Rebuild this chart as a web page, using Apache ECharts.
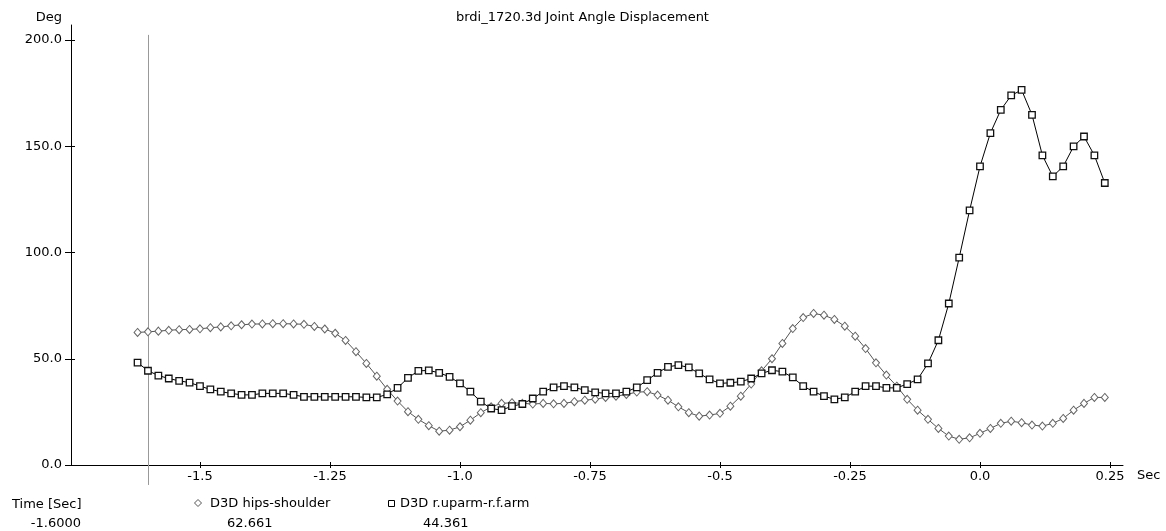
<!DOCTYPE html>
<html><head><meta charset="utf-8">
<script src="https://cdn.jsdelivr.net/npm/echarts@6/dist/echarts.min.js"></script>
<style>html,body{margin:0;padding:0;background:#fff}#c{width:1166px;height:531px}</style>
</head><body><div id="c"></div>
<script>
// ---- data ----
const times = [
  -1.62,-1.60,-1.58,-1.56,-1.54,-1.52,-1.50,-1.48,-1.46,-1.44,
  -1.42,-1.40,-1.38,-1.36,-1.34,-1.32,-1.30,-1.28,-1.26,-1.24,
  -1.22,-1.20,-1.18,-1.16,-1.14,-1.12,-1.10,-1.08,-1.06,-1.04,
  -1.02,-1.00,-0.98,-0.96,-0.94,-0.92,-0.90,-0.88,-0.86,-0.84,
  -0.82,-0.80,-0.78,-0.76,-0.74,-0.72,-0.70,-0.68,-0.66,-0.64,
  -0.62,-0.60,-0.58,-0.56,-0.54,-0.52,-0.50,-0.48,-0.46,-0.44,
  -0.42,-0.40,-0.38,-0.36,-0.34,-0.32,-0.30,-0.28,-0.26,-0.24,
  -0.22,-0.20,-0.18,-0.16,-0.14,-0.12,-0.10,-0.08,-0.06,-0.04,
  -0.02,0.00,0.02,0.04,0.06,0.08,0.10,0.12,0.14,0.16,
  0.18,0.20,0.22,0.24
];
const hipsShoulder = [
  62.4,62.661,63.0,63.4,63.7,63.8,64.1,64.6,65.0,65.5,
  66.0,66.3,66.4,66.5,66.5,66.4,66.2,65.2,64.0,62.0,
  58.6,53.3,47.8,41.8,35.6,30.1,25.1,21.5,18.5,15.9,
  16.4,18.0,21.1,24.6,27.4,29.0,29.3,29.0,28.7,29.0,
  28.8,29.0,29.8,30.5,31.0,31.8,32.4,33.2,34.3,34.5,
  32.9,30.5,27.4,24.6,23.0,23.5,24.3,27.7,32.4,38.1,
  44.3,50.0,57.2,64.2,69.4,71.3,70.5,68.5,65.3,60.6,
  54.8,48.1,42.3,37.1,30.9,25.8,21.5,17.2,13.6,12.1,
  12.8,14.9,17.2,19.6,20.6,19.9,18.8,18.3,19.6,21.9,
  25.8,29.0,31.8,31.8
];
const uparmForearm = [
  48.2,44.361,42.1,40.7,39.6,38.8,37.1,35.6,34.5,33.7,
  33.0,33.0,33.7,33.7,33.7,33.0,32.1,32.1,32.1,32.1,
  32.1,32.1,31.8,31.8,33.2,36.3,41.0,44.3,44.5,43.4,
  41.5,38.4,34.5,29.8,26.6,25.8,27.7,28.7,31.3,34.5,
  36.5,37.1,36.5,35.2,34.2,33.7,33.7,34.5,36.5,39.9,
  43.4,46.2,47.0,45.9,43.1,40.3,38.4,38.7,39.2,40.7,
  43.1,44.6,43.9,41.2,37.1,34.5,32.4,30.9,31.8,34.5,
  37.1,37.1,36.3,36.3,38.1,40.3,47.8,58.7,76.0,97.6,
  119.8,140.5,156.2,167.1,173.9,176.5,164.8,145.7,135.8,140.5,
  149.9,154.6,145.7,132.7
];
const seriesNames = ['D3D hips-shoulder', 'D3D r.uparm-r.f.arm'];
const xTicks = [-1.5, -1.25, -1.0, -0.75, -0.5, -0.25, 0.0, 0.25];
const yTicks = [0, 50, 100, 150, 200];
const cursorTime = -1.6;

// ---- chart ----
const FONT = 'DejaVu Sans';
const FS = 13;
const chart = echarts.init(document.getElementById('c'), null, {renderer: 'canvas'});
const xMin = -1.748, xMax = 0.275, yMin = 0, yMax = 207.06;
function xFmt(v) { return (Math.abs(Math.round(v * 4)) % 2 === 1) ? v.toFixed(2) : v.toFixed(1); }
const txt = {fontFamily: FONT, fontSize: FS, color: '#000'};

const option = {
  animation: false,
  backgroundColor: '#fff',
  textStyle: {fontFamily: FONT},
  title: {
    text: 'brdi_1720.3d Joint Angle Displacement',
    left: 456, top: 11, padding: 0,
    textStyle: {fontFamily: FONT, fontSize: FS, fontWeight: 'normal', color: '#000'}
  },
  grid: {left: 71, right: 43, top: 25, bottom: 66, containLabel: false, outerBoundsMode: 'none'},
  xAxis: [
    {
      type: 'value', min: xMin, max: xMax, position: 'bottom',
      axisLine: {onZero: false, lineStyle: {color: '#000', width: 1}},
      axisTick: {show: true, inside: false, length: 3, customValues: xTicks, lineStyle: {color: '#000'}},
      axisLabel: Object.assign({customValues: xTicks, formatter: xFmt, margin: 5}, txt),
      splitLine: {show: false},
      name: 'Sec', nameLocation: 'end', nameGap: 14, nameMoveOverlap: false,
      nameTextStyle: Object.assign({align: 'left', verticalAlign: 'top', padding: [4, 0, 0, 0]}, txt)
    },
    {
      type: 'value', min: xMin, max: xMax, position: 'bottom',
      axisLine: {show: false, onZero: false},
      axisTick: {show: true, inside: true, length: 3, customValues: xTicks, lineStyle: {color: '#000'}},
      axisLabel: {show: false},
      splitLine: {show: false}
    }
  ],
  yAxis: [
    {
      type: 'value', min: yMin, max: yMax, position: 'left',
      axisLine: {show: true, onZero: false, lineStyle: {color: '#000', width: 1}},
      axisTick: {show: true, inside: false, length: 6, customValues: yTicks, lineStyle: {color: '#000'}},
      axisLabel: Object.assign({customValues: yTicks, formatter: v => v.toFixed(1), margin: 9}, txt),
      splitLine: {show: false},
      name: 'Deg', nameLocation: 'end', nameGap: 1, nameMoveOverlap: false,
      nameTextStyle: Object.assign({align: 'right', verticalAlign: 'bottom', padding: [0, 9, 0, 0]}, txt)
    },
    {
      type: 'value', min: yMin, max: yMax, position: 'left',
      axisLine: {show: false, onZero: false},
      axisTick: {show: true, inside: true, length: 4, customValues: yTicks, lineStyle: {color: '#000'}},
      axisLabel: {show: false},
      splitLine: {show: false}
    }
  ],
  series: [
    {
      name: seriesNames[0], type: 'line',
      data: times.map((t, i) => [t, hipsShoulder[i]]),
      symbol: 'diamond', symbolSize: [7, 8], showSymbol: true, showAllSymbol: true,
      lineStyle: {color: '#555', width: 1},
      itemStyle: {color: '#fff', borderColor: '#666', borderWidth: 1},
      emphasis: {disabled: true}, z: 3
    },
    {
      name: seriesNames[1], type: 'line',
      data: times.map((t, i) => [t, uparmForearm[i]]),
      symbol: 'rect', symbolSize: 6.5, showSymbol: true, showAllSymbol: true,
      lineStyle: {color: '#000', width: 1},
      itemStyle: {color: '#fff', borderColor: '#111', borderWidth: 1.3},
      emphasis: {disabled: true}, z: 4
    }
  ]
};
chart.setOption(option);

// ---- cursor line + readout (positions from the library's scales) ----
const ci = times.indexOf(cursorTime);
const cx = chart.convertToPixel({xAxisIndex: 0}, cursorTime);
const cyTop = chart.convertToPixel({yAxisIndex: 0}, 202.4);
const cyBot = chart.convertToPixel({yAxisIndex: 0}, -9.4);
const font = FS + 'px "' + FONT + '"';
function T(text, x, y, align) {
  return {type: 'text', x: x, y: y, silent: true, z: 10,
    style: {text: text, font: font, fill: '#000', align: align || 'left', verticalAlign: 'middle'}};
}
chart.setOption({
  graphic: [
    {type: 'line', silent: true, z: 1,
      shape: {x1: Math.round(cx) + 0.5, y1: cyTop, x2: Math.round(cx) + 0.5, y2: cyBot},
      style: {stroke: '#999', lineWidth: 1}},
    T('Time [Sec]', 12, 505),
    T(cursorTime.toFixed(4), 81, 524, 'right'),
    {type: 'polygon', silent: true, z: 10,
      shape: {points: [[198, 499.5], [201.5, 503], [198, 506.5], [194.5, 503]]},
      style: {fill: '#fff', stroke: '#555', lineWidth: 1}},
    T(seriesNames[0], 210, 504),
    T(hipsShoulder[ci].toFixed(3), 227, 524),
    {type: 'rect', silent: true, z: 10,
      shape: {x: 388.5, y: 500.5, width: 6, height: 6},
      style: {fill: '#fff', stroke: '#000', lineWidth: 1}},
    T(seriesNames[1], 400, 504),
    T(uparmForearm[ci].toFixed(3), 423, 524)
  ]
});
</script>
</body></html>
